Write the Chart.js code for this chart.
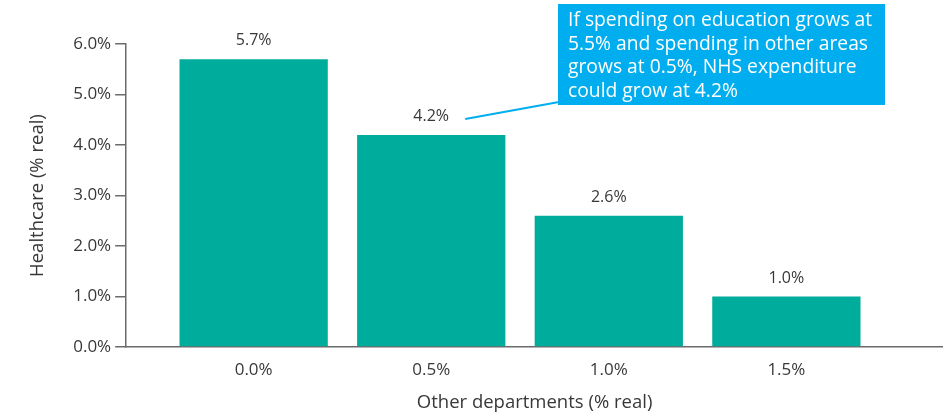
<!DOCTYPE html>
<html>
<head>
<meta charset="utf-8">
<script src="https://cdn.jsdelivr.net/npm/chart.js@4/dist/chart.umd.min.js"></script>
<style>
html,body{margin:0;padding:0;background:#fff;}
#wrap{width:943px;height:414px;position:relative;}
</style>
</head>
<body>
<div id="wrap"><canvas id="c" width="943" height="414"></canvas></div>
<script>
// Data
const categories = [0.0, 0.5, 1.0, 1.5];           // Other departments (% real)
const healthcare = [5.7, 4.2, 2.6, 1.0];           // Healthcare (% real)
const yTickValues = [0, 1, 2, 3, 4, 5, 6];
const xTitle = 'Other departments (% real)';
const yTitle = 'Healthcare (% real)';
const noteLines = [
  'If spending on education grows at',
  '5.5% and spending in other areas',
  'grows at 0.5%, NHS expenditure',
  'could grow at 4.2%'
];
const noteIndex = 1;

const FONT = "'Open Sans', 'DejaVu Sans', sans-serif";
const TEXT = '#383838';
const TEAL = '#00AC9B';
const BLUE = '#00AEEF';
const AXIS = '#6b6b6b';

const valueLabels = {
  id: 'valueLabels',
  afterDatasetsDraw(chart) {
    const ctx = chart.ctx;
    const meta = chart.getDatasetMeta(0);
    ctx.save();
    ctx.font = '16px ' + FONT;
    ctx.fillStyle = TEXT;
    ctx.textAlign = 'center';
    ctx.textBaseline = 'alphabetic';
    meta.data.forEach((bar, i) => {
      ctx.fillText(healthcare[i].toFixed(1) + '%', bar.x, bar.y - 14);
    });
    ctx.restore();
  }
};

const callout = {
  id: 'callout',
  afterDraw(chart) {
    const ctx = chart.ctx;
    const bar = chart.getDatasetMeta(0).data[noteIndex];
    const bx = chart.width - 385, by = 4, bw = 327, bh = 101;
    ctx.save();
    // leader line
    ctx.strokeStyle = BLUE;
    ctx.lineWidth = 2;
    ctx.beginPath();
    ctx.moveTo(bar.x + 34, bar.y - 16);
    ctx.lineTo(bx + 1, by + bh - 3);
    ctx.stroke();
    // box
    ctx.fillStyle = BLUE;
    ctx.fillRect(bx, by, bw, bh);
    ctx.fillStyle = '#ffffff';
    ctx.font = '19.3px ' + FONT;
    ctx.textAlign = 'left';
    ctx.textBaseline = 'alphabetic';
    noteLines.forEach((t, i) => ctx.fillText(t, bx + 10, by + 22 + i * 23.5));
    ctx.restore();
  }
};

new Chart(document.getElementById('c'), {
  type: 'bar',
  data: {
    datasets: [{
      data: categories.map((x, i) => ({ x: x, y: healthcare[i] })),
      backgroundColor: TEAL,
      borderWidth: 0,
      barPercentage: 0.835,
      categoryPercentage: 1.0
    }]
  },
  options: {
    responsive: false,
    animation: false,
    devicePixelRatio: 1,
    layout: { padding: { top: 44, left: 27, right: 0, bottom: 0 } },
    plugins: { legend: { display: false }, tooltip: { enabled: false } },
    scales: {
      x: {
        type: 'linear',
        offset: false,
        min: -0.359,
        max: 1.941,
        afterBuildTicks(scale) { scale.ticks = categories.map(v => ({ value: v })); },
        grid: { display: false, drawTicks: false, offset: false },
        border: { display: true, color: AXIS, width: 1.5 },
        ticks: {
          padding: 13,
          color: TEXT,
          font: { family: FONT, size: 17 },
          maxRotation: 0,
          autoSkip: false,
          callback: v => Number(v).toFixed(1) + '%'
        },
        title: {
          display: true,
          text: xTitle,
          color: TEXT,
          font: { family: FONT, size: 18.5, lineHeight: 1.0 },
          padding: { top: 0, bottom: 2 }
        }
      },
      y: {
        min: 0,
        max: 6,
        afterBuildTicks(scale) { scale.ticks = yTickValues.map(v => ({ value: v })); },
        grid: { drawOnChartArea: false, drawTicks: true, tickLength: 11, color: AXIS, lineWidth: 1.5 },
        border: { display: true, color: AXIS, width: 1.5 },
        ticks: {
          padding: 4,
          color: TEXT,
          font: { family: FONT, size: 17 },
          callback: v => Number(v).toFixed(1) + '%'
        },
        title: {
          display: true,
          text: yTitle,
          color: TEXT,
          font: { family: FONT, size: 18.5 },
          padding: { top: 0, bottom: 20 }
        }
      }
    }
  },
  plugins: [valueLabels, callout]
});
</script>
</body>
</html>
